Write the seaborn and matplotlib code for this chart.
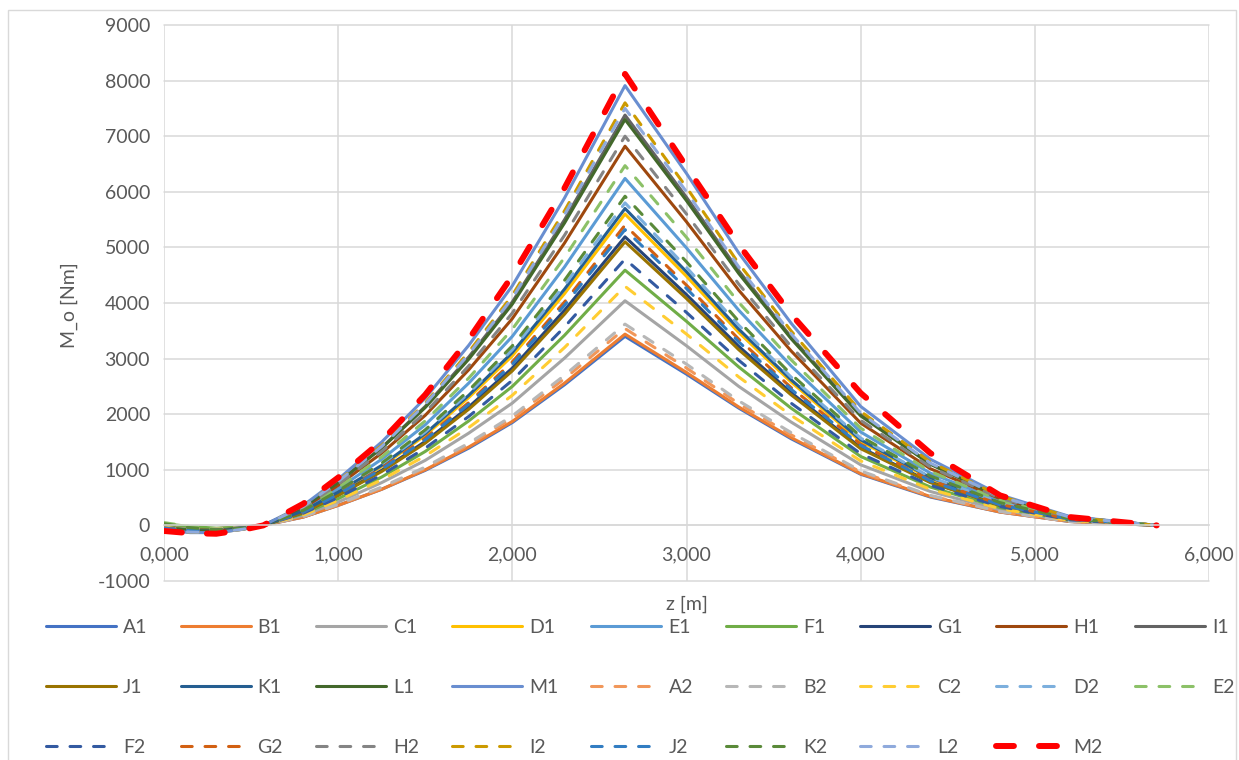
import matplotlib
matplotlib.use("Agg")
import matplotlib.pyplot as plt
from matplotlib.patches import Rectangle
import seaborn as sns

z = [0.0, 0.15, 0.3, 0.45, 0.57, 0.8, 1.0, 1.25, 1.5, 1.75, 2.0, 2.3, 2.647,
     3.0, 3.3, 3.6, 4.0, 4.4, 4.8, 5.2, 5.7]

# M_o [Nm] per series
A1 = [-30, -50, -60, -30, 0, 150, 360, 650, 990, 1390, 1850, 2530, 3400, 2720, 2110, 1560, 920, 510, 240, 70, 0]
B1 = [-30, -60, -60, -30, 0, 150, 360, 650, 1000, 1410, 1870, 2560, 3440, 2750, 2130, 1580, 930, 520, 240, 70, 0]
C1 = [-40, -60, -70, -40, 0, 180, 420, 770, 1170, 1660, 2200, 3010, 4040, 3230, 2500, 1860, 1090, 610, 280, 80, 0]
D1 = [-60, -90, -100, -50, 0, 250, 590, 1060, 1620, 2300, 3050, 4170, 5600, 4480, 3470, 2580, 1510, 840, 390, 110, 0]
E1 = [-60, -100, -110, -60, 0, 280, 660, 1190, 1810, 2560, 3400, 4650, 6240, 4990, 3870, 2870, 1680, 940, 440, 120, 0]
F1 = [30, -20, -50, -30, 0, 210, 480, 870, 1330, 1880, 2500, 3420, 4590, 3670, 2850, 2110, 1240, 690, 320, 90, 0]
G1 = [-50, -80, -90, -50, 0, 230, 545, 990, 1510, 2130, 2830, 3870, 5190, 4150, 3220, 2390, 1400, 780, 360, 100, 0]
H1 = [-70, -110, -120, -60, 0, 310, 720, 1300, 1980, 2800, 3720, 5080, 6820, 5460, 4230, 3140, 1840, 1020, 480, 140, 0]
I1 = [-70, -120, -130, -70, 0, 330, 780, 1400, 2140, 3030, 4020, 5500, 7380, 5900, 4580, 3390, 1990, 1110, 520, 150, 0]
J1 = [-50, -80, -90, -50, 0, 230, 540, 970, 1480, 2090, 2780, 3800, 5100, 4080, 3160, 2350, 1380, 770, 360, 100, 0]
K1 = [-60, -90, -100, -50, 0, 260, 600, 1080, 1650, 2340, 3110, 4250, 5700, 4560, 3530, 2620, 1540, 860, 400, 110, 0]
L1 = [-40, -90, -110, -60, 0, 330, 770, 1390, 2120, 2990, 3980, 5440, 7300, 5840, 4530, 3360, 1970, 1100, 510, 150, 0]
M1 = [-80, -130, -130, -70, 0, 360, 830, 1500, 2290, 3240, 4310, 5890, 7910, 6330, 4900, 3640, 2140, 1190, 550, 160, 0]
A2 = [-40, -60, -60, -30, 0, 160, 370, 670, 1030, 1450, 1930, 2640, 3540, 2830, 2190, 1630, 960, 530, 250, 70, 0]
B2 = [-40, -60, -60, -30, 0, 160, 380, 690, 1050, 1480, 1970, 2700, 3620, 2900, 2240, 1670, 980, 540, 250, 70, 0]
C2 = [-40, -70, -70, -40, 0, 190, 450, 820, 1250, 1760, 2340, 3200, 4300, 3440, 2670, 1980, 1160, 650, 300, 90, 0]
D2 = [-60, -90, -100, -50, 0, 260, 610, 1100, 1680, 2380, 3160, 4320, 5800, 4640, 3600, 2670, 1570, 870, 410, 120, 0]
E2 = [50, -20, -70, -50, 0, 290, 680, 1230, 1880, 2650, 3530, 4820, 6470, 5180, 4010, 2980, 1750, 970, 450, 130, 0]
F2 = [-50, -80, -80, -40, 0, 220, 500, 910, 1390, 1960, 2610, 3570, 4790, 3830, 2970, 2200, 1290, 720, 340, 100, 0]
G2 = [-50, -90, -90, -50, 0, 240, 570, 1030, 1570, 2210, 2940, 4020, 5400, 4320, 3350, 2480, 1460, 810, 380, 110, 0]
H2 = [-70, -110, -120, -60, 0, 320, 740, 1330, 2030, 2870, 3820, 5220, 7000, 5600, 4340, 3220, 1890, 1050, 490, 140, 0]
I2 = [-80, -120, -130, -70, 0, 340, 800, 1440, 2200, 3120, 4140, 5660, 7600, 6080, 4710, 3500, 2050, 1140, 530, 150, 0]
J2 = [-50, -90, -90, -50, 0, 240, 560, 1010, 1540, 2180, 2900, 3960, 5320, 4260, 3300, 2450, 1440, 800, 370, 110, 0]
K2 = [30, -40, -80, -50, 0, 270, 620, 1120, 1720, 2430, 3230, 4410, 5920, 4740, 3670, 2720, 1600, 890, 410, 120, 0]
L2 = [-80, -120, -130, -70, 0, 340, 790, 1420, 2180, 3080, 4090, 5590, 7500, 6000, 4650, 3450, 2020, 1120, 520, 150, 0]
M2 = [-100, -140, -150, -80, 0, 390, 860, 1520, 2350, 3350, 4490, 6070, 8120, 6450, 5050, 3800, 2380, 1300, 540, 150, 0]

names = ["A1", "B1", "C1", "D1", "E1", "F1", "G1", "H1", "I1", "J1", "K1", "L1", "M1",
         "A2", "B2", "C2", "D2", "E2", "F2", "G2", "H2", "I2", "J2", "K2", "L2", "M2"]
series = [A1, B1, C1, D1, E1, F1, G1, H1, I1, J1, K1, L1, M1,
          A2, B2, C2, D2, E2, F2, G2, H2, I2, J2, K2, L2, M2]
colors = ["#4472C4", "#ED7D31", "#A5A5A5", "#FFC000", "#5B9BD5", "#70AD47",
          "#264478", "#9E480E", "#636363", "#997300", "#255E91", "#43682B",
          "#698ED0", "#F1975A", "#B7B7B7", "#FFCD33", "#7CAFDD", "#8CC168",
          "#335AA1", "#D26012", "#848484", "#CC9A00", "#327DC2", "#5A8A39",
          "#8FAADC", "#FF0000"]

x_ticks = [0, 1, 2, 3, 4, 5, 6]
x_labels = ["0,000", "1,000", "2,000", "3,000", "4,000", "5,000", "6,000"]
y_ticks = list(range(-1000, 9001, 1000))

sns.set_style("white")
plt.rcParams["font.family"] = ["Lato", "DejaVu Sans"]
txt = "#595959"
grid = "#d9d9d9"

W, H = 1239, 760
fig = plt.figure(figsize=(W / 100, H / 100), dpi=100)
ax = fig.add_axes([164 / W, 1 - 581 / H, (1209 - 164) / W, (581 - 25) / H])

handles = []
for name, vals, col in zip(names, series, colors):
    if name == "M2":
        lw, ls = 4.3, (0, (3, 4.2))
    elif name.endswith("2"):
        lw, ls = 2.2, (0, (3.5, 4.2))
    else:
        lw, ls = 2.2, "-"
    sns.lineplot(x=z, y=vals, ax=ax, color=col, linewidth=lw, linestyle=ls,
                 dash_capstyle="round", solid_capstyle="round",
                 sort=False, errorbar=None, legend=False)
    handles.append(ax.lines[-1])

ax.set_xlim(0, 6)
ax.set_ylim(-1000, 9000)
ax.set_xticks(x_ticks)
ax.set_xticklabels(x_labels)
ax.set_yticks(y_ticks)
ax.set_yticklabels([str(v) for v in y_ticks])
ax.set_xlabel("")
ax.set_ylabel("")

ax.grid(True, color=grid, linewidth=1.1)
ax.set_axisbelow(True)
for gl in ax.get_xgridlines() + ax.get_ygridlines():
    gl.set_clip_on(False)
for s in ["left", "right", "top"]:
    ax.spines[s].set_visible(False)
ax.spines["bottom"].set_position(("data", 0))
ax.spines["bottom"].set_color(grid)
ax.spines["bottom"].set_linewidth(1.1)
ax.tick_params(axis="x", length=0, pad=15, labelsize=14, labelcolor=txt)
ax.tick_params(axis="y", length=0, pad=10, labelsize=14, labelcolor=txt)

fig.text(686.5 / W, 1 - 604 / H, "z [m]", ha="center", va="center", fontsize=14, color=txt)
fig.text(69 / W, 1 - 305 / H, "M_o [Nm]", ha="center", va="center", rotation=90,
         fontsize=14, color=txt)

# legend in Excel row order (matplotlib fills columns first)
order = [r * 9 + c for c in range(9) for r in range(3) if r * 9 + c < len(names)]
fig.legend([handles[i] for i in order], [names[i] for i in order], ncol=9,
           loc="upper left", bbox_to_anchor=(46 / W, 1 - 619 / H), frameon=False,
           fontsize=14, labelcolor=txt, handlelength=3.6, handletextpad=0.36,
           columnspacing=1.7, labelspacing=2.2, borderpad=0, borderaxespad=0)

fig.add_artist(Rectangle((8 / W, -0.05), (1236 - 8) / W, 1.05 - 10 / H,
                         transform=fig.transFigure, fill=False, ec=grid, lw=1))

fig.savefig("out.png", dpi=100)
